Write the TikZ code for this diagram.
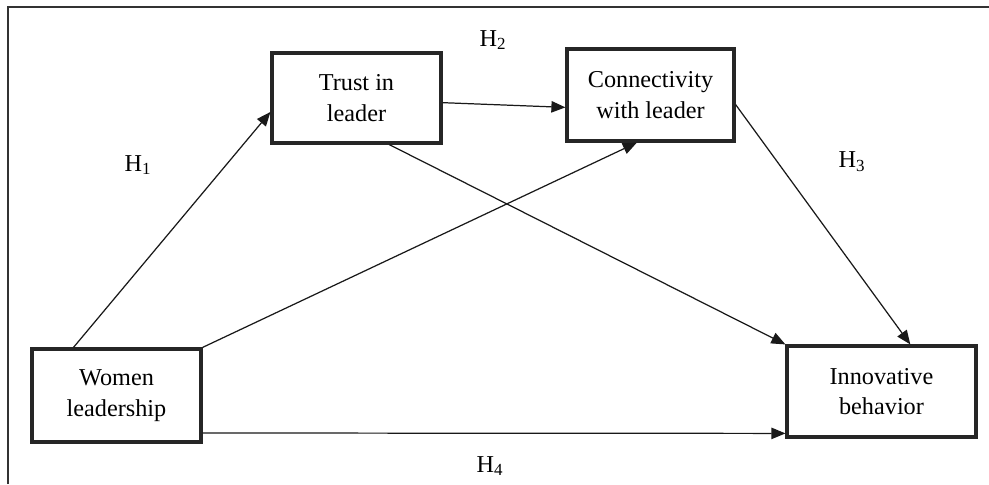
\documentclass[tikz,border=0pt]{standalone}
\usepackage{fontspec}
\setmainfont{Liberation Serif}
\usepackage{tikz}
\usetikzlibrary{arrows.meta, calc}

\begin{document}
\begin{tikzpicture}[x=0.02cm, y=-0.02cm,
  box/.style={rectangle, draw=black!85, line width=1.8pt, inner sep=0pt,
              align=center, font=\fontsize{13.8}{17.5}\selectfont},
  arr/.style={-{Triangle[length=8pt, width=6.5pt]}, line width=0.7pt, black!90},
  hyp/.style={font=\fontsize{13.8}{16}\selectfont}
]
\useasboundingbox (0,0) rectangle (989,484);
\draw[black!80, line width=0.8pt] (8,484) -- (8,7) -- (989,7);

\node[box, minimum width=3.38cm, minimum height=1.8cm]  (trust) at (356.5,98)  {Trust in\\leader};
\node[box, minimum width=3.34cm, minimum height=1.84cm] (conn)  at (650.5,95)  {Connectivity\\with leader};
\node[box, minimum width=3.38cm, minimum height=1.86cm] (women) at (116.5,395.5) {Women\\leadership};
\node[box, minimum width=3.78cm, minimum height=1.82cm] (innov) at (881.5,391.5) {Innovative\\behavior};

\draw[arr] ($(women.north west)!.25!(women.north east)$) -- ($(trust.north west)!.65!(trust.south west)$);
\draw[arr] (women.north east) -- ($(conn.south west)!.42!(conn.south east)$);
\draw[arr] ($(trust.south west)!.69!(trust.south east)$) -- (innov.north west);
\draw[arr] ($(trust.north east)!.55!(trust.south east)$) -- ($(conn.north west)!.63!(conn.south west)$);
\draw[arr] ($(conn.north east)!.6!(conn.south east)$) -- ($(innov.north west)!.65!(innov.north east)$);
\draw[arr] ($(women.north east)!.89!(women.south east)$) -- ($(innov.north west)!.945!(innov.south west)$);

\node[hyp] (h1) at (138,165) {H\textsubscript{1}};
\node[hyp] (h2) at (493,40)  {H\textsubscript{2}};
\node[hyp] (h3) at (852,162) {H\textsubscript{3}};
\node[hyp] (h4) at (490,466) {H\textsubscript{4}};
\end{tikzpicture}
\end{document}
